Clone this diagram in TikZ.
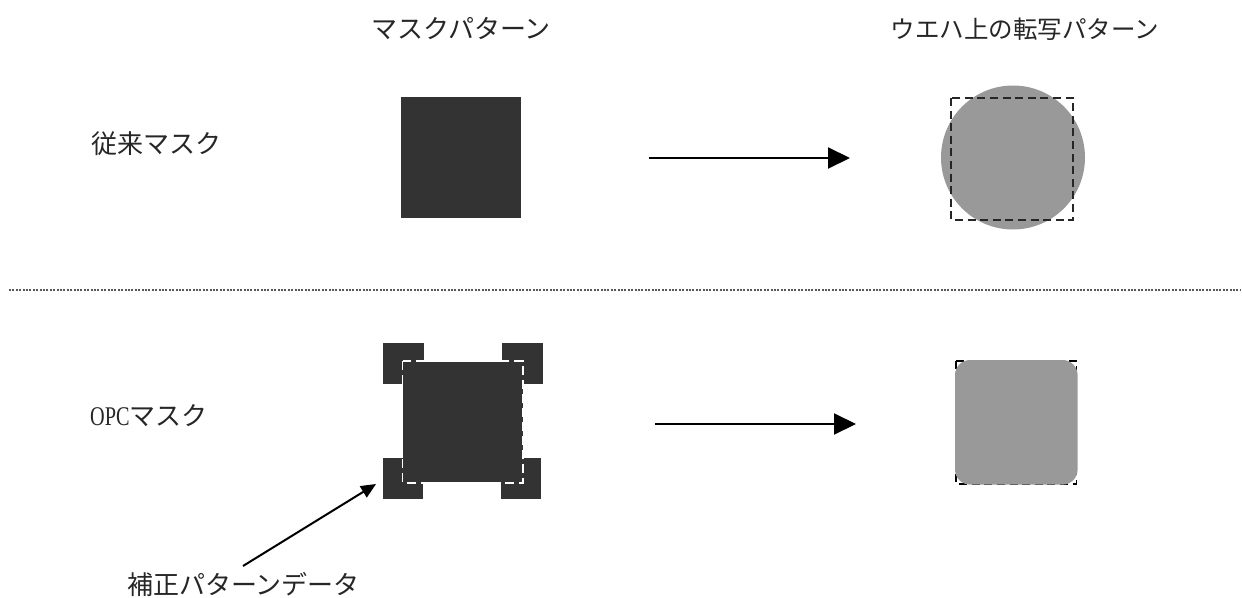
\documentclass[tikz,border=0pt]{standalone}
\usepackage{fontspec}
\usepackage{graphicx}
\usetikzlibrary{arrows.meta}
\newfontfamily\cjk{Noto Sans CJK JP}
\newfontfamily\latinserif{Liberation Serif}
\definecolor{maskdark}{HTML}{333333}
\definecolor{wafergray}{HTML}{999999}
\tikzset{
  lbl/.style={font=\cjk\fontsize{26}{28}\selectfont, inner sep=0pt, text=black!85},
  headb/.style={font=\cjk\fontsize{24.5}{28}\selectfont, inner sep=0pt, text=black!85},
  mask/.style={fill=maskdark, draw=none},
  wafer/.style={fill=wafergray, draw=none},
  flow/.style={draw=black, line width=2pt, -{Triangle[length=22pt,width=21pt]}},
  note/.style={draw=black, line width=2pt, -{Triangle[length=15pt,width=13pt]}},
  outlineK/.style={draw=black!85, line width=2.2pt, dash pattern=on 8pt off 4.6pt},
  outlineR/.style={draw=black, line width=1.4pt, dash pattern=on 8pt off 4.6pt},
  outlineW/.style={draw=white, line width=1.3pt, dash pattern=on 9pt off 5pt}
}
\begin{document}
\begin{tikzpicture}[x=1pt,y=-1pt]
\useasboundingbox (0,0) rectangle (1242,597);
\node[lbl] (h1) at (461,29) {マスクパターン};
\node[headb] (h2) at (1025,29) {ウエハ上の転写パターン};
\node[lbl,anchor=west] (l1) at (91,144) {従来マスク};
\node[lbl,anchor=west] (l2) at (90,416) {\scalebox{0.75}[1]{\latinserif\fontsize{27}{28}\selectfont OPC}マスク};
\node[lbl,anchor=west] (l3) at (127,584) {補正パターンデータ};
% top row
\fill[mask] (401,97) rectangle (521,218);
\fill[wafer] (1013,157.5) circle (72);
\draw[outlineK] (951,98) rectangle (1073,220);
\coordinate (a1s) at (649,158);
\coordinate (a1e) at (850,158);
\draw[flow] (a1s) -- (a1e);
% divider
\coordinate (d1) at (9,290);
\coordinate (d2) at (1240,290);
\draw[black!65, line width=1.2pt, dash pattern=on 2pt off 1.4pt] (d1) -- (d2);
% OPC mask
\fill[mask] (383,343) rectangle (424,384);
\fill[mask] (502,343) rectangle (543,384);
\fill[mask] (383,458) rectangle (423,499);
\fill[mask] (501,458) rectangle (541,499);
\fill[mask] (403.4,361.6) rectangle (522.6,482.4);
\draw[outlineW] (402.6,361) rectangle (523,483);
% OPC result
\draw[outlineR] (956,361) rectangle (1076.6,483.8);
\fill[wafer,rounded corners=15pt] (955,360) rectangle (1077.6,484.6);
\coordinate (a2s) at (655,424);
\coordinate (a2e) at (856,424);
\draw[flow] (a2s) -- (a2e);
\coordinate (a3s) at (243,566);
\coordinate (a3e) at (376,484);
\draw[note] (a3s) -- (a3e);
\end{tikzpicture}
\end{document}
